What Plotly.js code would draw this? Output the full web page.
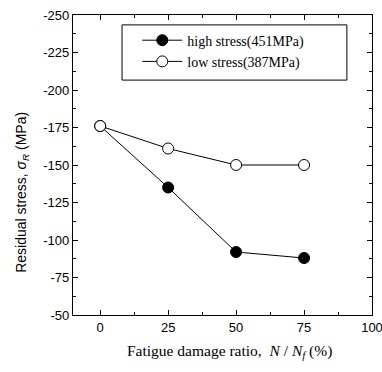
<!DOCTYPE html>
<html><head><meta charset="utf-8">
<script src="https://cdn.plot.ly/plotly-3.0.1.min.js"></script>
<style>html,body{margin:0;padding:0;background:#fff}#c{width:382px;height:372px}</style>
</head><body><div id="c"></div>
<script>
const damageRatio = [0, 25, 50, 75];
const highStress = [-176, -135, -92, -88];
const lowStress = [-176, -161, -150, -150];
const seriesNames = ["high stress(451MPa)", "low stress(387MPa)"];
const xTicks = [0, 25, 50, 75, 100];
const yTicks = [-250, -225, -200, -175, -150, -125, -100, -75, -50];
const xTitle = "Fatigue damage ratio,  <i>N</i> / <i>N<sub>f</sub></i> (%)";
const yTitle = "Residual stress, <i>σ<sub>R</sub></i> (MPa)";

const traces = [
  {x: damageRatio, y: highStress, name: seriesNames[0], mode: "lines+markers",
   line: {color: "#000", width: 1}, marker: {symbol: "circle", size: 11, color: "#000", line: {color: "#000", width: 1}}},
  {x: damageRatio, y: lowStress, name: seriesNames[1], mode: "lines+markers",
   line: {color: "#000", width: 1}, marker: {symbol: "circle", size: 11, color: "#fff", line: {color: "#000", width: 1}}}
];
const axisCommon = {showgrid: false, zeroline: false, showline: true, linecolor: "#000", linewidth: 1.2, mirror: "allticks",
  ticks: "inside", ticklen: 5, tickcolor: "#000", ticklabeloverflow: "allow",
  tickfont: {family: "Liberation Sans, Arial", size: 13, color: "#000"}};
const layout = {
  width: 382, height: 372, margin: {l: 73, r: 10, t: 15, b: 57},
  paper_bgcolor: "#fff", plot_bgcolor: "#fff", showlegend: true,
  legend: {x: 0.215, y: 0.968, xanchor: "left", yanchor: "top", borderwidth: 0, bgcolor: "rgba(0,0,0,0)",
    font: {family: "Liberation Serif, Times New Roman", size: 14, color: "#000"}, itemwidth: 40, tracegroupgap: 0},
  shapes: [{type: "rect", xref: "paper", yref: "paper", x0: 0.164, x1: 0.916, y0: 0.783, y1: 0.967,
    line: {color: "#000", width: 1}, fillcolor: "rgba(0,0,0,0)", layer: "below"}],
  annotations: [
    {text: xTitle, xref: "paper", yref: "paper", x: 0.525, y: -0.123, xanchor: "center", yanchor: "middle", showarrow: false,
     font: {family: "Liberation Serif, Times New Roman", size: 15.5, color: "#000"}},
    {text: yTitle, xref: "paper", yref: "paper", x: -0.171, y: 0.41, xanchor: "center", yanchor: "middle", showarrow: false, textangle: -90,
     font: {family: "Liberation Sans, Arial", size: 14, color: "#000"}}
  ],
  xaxis: Object.assign({}, axisCommon, {range: [-10, 100], tickvals: xTicks, ticktext: xTicks.map(String),
    minor: {ticks: "inside", ticklen: 3, tickcolor: "#000", dtick: 12.5, tick0: 0}}),
  yaxis: Object.assign({}, axisCommon, {range: [-50, -250], tickvals: yTicks, ticktext: yTicks.map(String),
    minor: {ticks: "inside", ticklen: 3, tickcolor: "#000", dtick: 12.5, tick0: 0}})
};
Plotly.newPlot("c", traces, layout, {staticPlot: true, displayModeBar: false});
</script></body></html>
